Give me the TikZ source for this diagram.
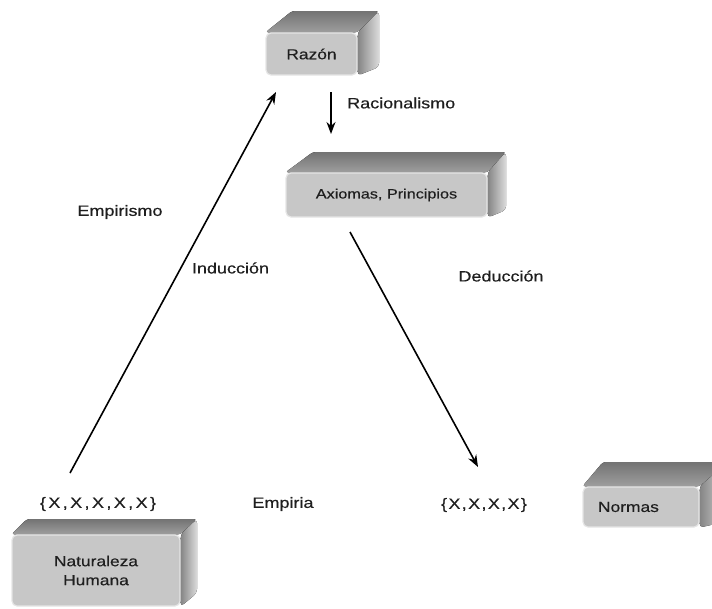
\documentclass[tikz,border=0pt]{standalone}
\usepackage{fontspec}
\setmainfont{Liberation Sans}[FakeStretch=1.2, FakeBold=0.4]
\usetikzlibrary{arrows.meta,backgrounds,calc}
\tikzset{
  lbl/.style={font=\fontsize{15}{16}\selectfont, text=black!88, inner sep=0pt},
  front/.style={rounded corners=5pt, fill=black!22, draw=white!90!black, line width=1.2pt,
    font=\fontsize{14.5}{19}\selectfont, text=black!88, align=center, inner sep=0pt},
  topface/.style={top color=black!55, bottom color=black!38, rounded corners=3pt},
  sideface/.style={left color=black!48, right color=black!14, rounded corners=4pt},
  arr/.style={line width=1.6pt, -{Stealth[length=12pt,width=9pt]}},
}
% faces behind a front node: name, back-left x, back-top y, back-right x, back-bottom y
\newcommand\cubefaces[5]{%
  \begin{scope}[on background layer]
    \fill[topface] (#1.north west) -- (#2,-#3) -- (#4,-#3) -- (#1.north east) -- cycle;
    \fill[sideface] (#1.north east) -- (#4,-#3) -- (#4,-#5) -- (#1.south east) -- cycle;
  \end{scope}}
\begin{document}
\begin{tikzpicture}[x=1pt,y=1pt]
\useasboundingbox (0,0) rectangle (712,-608);
\clip (0,0) rectangle (712,-608);

% boxes
\node[front, minimum width=91pt, minimum height=42pt] (raz) at (311.5,-54) {Razón};
\cubefaces{raz}{292}{11}{379}{67}
\node[front, minimum width=201pt, minimum height=44pt, font=\fontsize{13.5}{16}\selectfont] (axi) at (386.5,-195) {Axiomas, Principios};
\cubefaces{axi}{313}{152}{506}{210}
\node[front, minimum width=168pt, minimum height=71pt] (nat) at (96,-570.5) {Naturaleza\\Humana};
\cubefaces{nat}{27}{519}{197}{593}
\node[front, minimum width=116pt, minimum height=40pt, text width=86pt, inner xsep=15pt, align=left] (nor) at (641,-507) {Normas};
\cubefaces{nor}{603}{462}{728}{521}

% labels
\node[lbl, anchor=west] (rac) at (347,-103) {Racionalismo};
\node[lbl] (emp) at (120,-212) {Empirismo};
\node[lbl] (ind) at (230.5,-268) {Inducción};
\node[lbl] (ded) at (501,-276) {Deducción};
\node[lbl] (xs5) at (98,-504) {\addfontfeature{LetterSpace=16}\{X,X,X,X,X\}};
\node[lbl] (empi) at (283,-504) {Empiria};
\node[lbl] (xs4) at (484,-505) {\addfontfeature{LetterSpace=9}\{X,X,X,X\}};

% arrow end points
\coordinate (indA) at (70,-473);
\coordinate (indB) at (276,-92);
\coordinate (racA) at (331,-92);
\coordinate (racB) at (331,-134);
\coordinate (dedA) at (350,-232);
\coordinate (dedB) at (478,-467);

\draw[arr] (indA) -- (indB);
\draw[arr] (racA) -- (racB);
\draw[arr] (dedA) -- (dedB);
\end{tikzpicture}
\end{document}
